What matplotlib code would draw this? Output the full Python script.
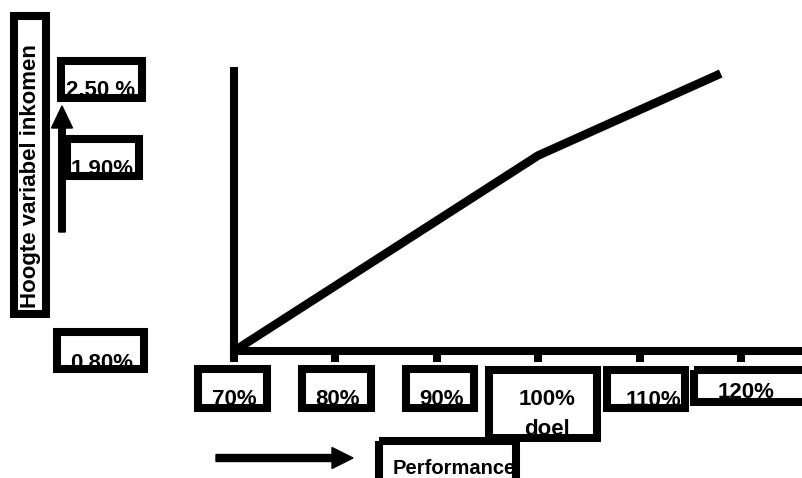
import numpy as np
import matplotlib
matplotlib.use("Agg")
import matplotlib.pyplot as plt
from matplotlib.patches import Rectangle, FancyArrow

plt.rcParams['font.family'] = ['Liberation Sans', 'DejaVu Sans']

# Data: variable income as a function of performance
performance = [70, 100, 118]          # % of target
income = [0.80, 1.90, 2.50]           # % variable income

x_ticks = [70, 80, 90, 100, 110, 120]
x_tick_labels = ["70%", "80%", "90%", "100%\ndoel", "110%", "120%"]
y_labels = ["2,50 %", "1,90%", "0,80%"]
y_title = "Hoogte variabel inkomen"
x_title = "Performance"

W, H = 802, 478
fig = plt.figure(figsize=(W / 100, H / 100), dpi=100)

# Main plotting area (pixel placement of the axes frame)
ax_l, ax_r, ax_b, ax_t = 234, 802, 351, 71
ax = fig.add_axes([ax_l / W, (H - ax_b) / H, (ax_r - ax_l) / W, (ax_b - ax_t) / H])
ax.set_yscale('function', functions=(np.sqrt, np.square))
ax.set_xlim(70, 70 + (ax_r - ax_l) / 10.14)
ax.set_ylim(0.8, 2.52)

spine_w = 5.8
for side in ("top", "right"):
    ax.spines[side].set_visible(False)
for side in ("left", "bottom"):
    ax.spines[side].set_linewidth(spine_w)
    ax.spines[side].set_color("black")
ax.set_xticks(x_ticks)
ax.set_xticklabels([])
ax.tick_params(axis="x", direction="out", length=8, width=spine_w, color="black")
ax.set_yticks([])
ax.yaxis.set_minor_locator(matplotlib.ticker.NullLocator())
ax.patch.set_visible(False)

ax.plot(performance, income, color="black", lw=6.2, solid_capstyle="butt",
        solid_joinstyle="miter", clip_on=False, zorder=3)

# Overlay in pixel units for the boxed labels and arrows
ov = fig.add_axes([0, 0, 1, 1])
ov.set_xlim(0, W)
ov.set_ylim(H, 0)
ov.axis("off")
ov.patch.set_visible(False)

border = 5.8  # ~8 px frame


def boxed(x0, y0, x1, y1):
    ov.add_patch(Rectangle((x0, y0), x1 - x0, y1 - y0, facecolor="white",
                           edgecolor="none", zorder=2))
    h = 4  # half of the 8 px border, so the frame sits inside the outer edge
    ov.add_patch(Rectangle((x0 + h, y0 + h), x1 - x0 - 2 * h, y1 - y0 - 2 * h,
                           facecolor="none", edgecolor="black", lw=border,
                           zorder=4, clip_on=False))


def label(x, y, s, size=16, ha="center"):
    ov.text(x, y, s, fontsize=size, fontweight="bold", ha=ha, va="baseline",
            color="black", zorder=3)


# X tick label boxes
xbox = [(194, 365, 271, 412), (298, 365, 375, 412), (402, 365, 478, 412),
        (485, 366, 601, 442), (603, 366, 689, 412), (690, 366, 810, 406)]
xtext = [(234, 405), (337, 405), (442, 405), (547, 405), (653, 406), (746, 398)]
for (b, (tx, ty), s) in zip(xbox, xtext, x_tick_labels):
    boxed(*b)
    for i, line in enumerate(s.split("\n")):
        label(tx, ty + 30 * i, line)

# Y value label boxes
ybox = [(57, 57, 146, 102), (63, 135, 143, 180), (53, 328, 148, 373)]
ytext = [(101, 95), (102, 174), (102, 369)]
for (b, (tx, ty), s) in zip(ybox, ytext, y_labels):
    boxed(*b)
    label(tx, ty, s)

# Axis title boxes
boxed(10, 12, 50, 318)
ov.text(36, 308, y_title, fontsize=16, fontweight="bold", rotation=90,
        rotation_mode="anchor", ha="left", va="baseline", zorder=3)

boxed(375, 437, 520, 500)
label(393, 474, x_title, size=14.5, ha="left")

# Direction arrows
ov.add_patch(FancyArrow(62, 232, 0, -126, width=6.5, head_width=21,
                        head_length=22, length_includes_head=True,
                        color="black", zorder=5))
ov.add_patch(FancyArrow(216, 458, 137, 0, width=7, head_width=21,
                        head_length=21, length_includes_head=True,
                        color="black", zorder=5))

fig.savefig("out.png", dpi=100, facecolor="white")
